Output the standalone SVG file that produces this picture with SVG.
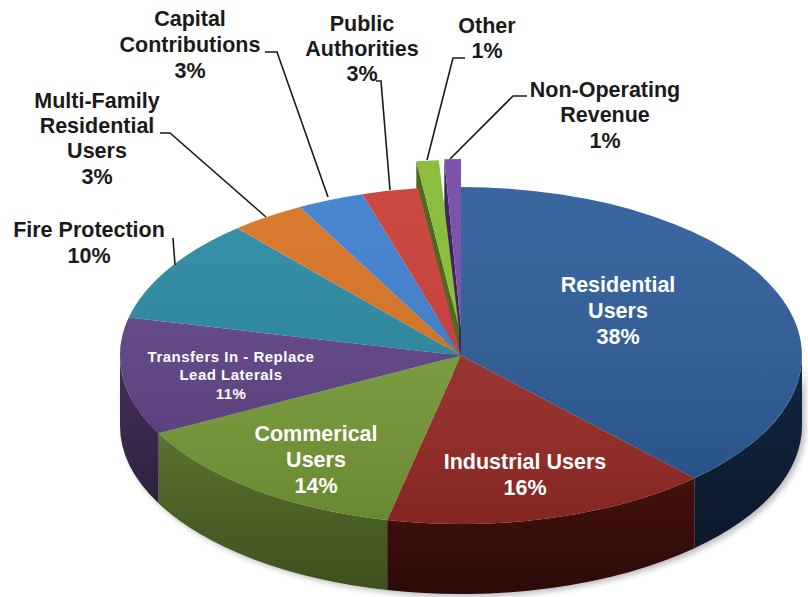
<svg xmlns="http://www.w3.org/2000/svg" width="808" height="597" viewBox="0 0 808 597">
<defs>
<style>
.lbl{font-family:"Liberation Sans",Arial,sans-serif;font-weight:bold;font-size:21.5px;text-anchor:middle;fill:#1a1a1a}
.in{font-family:"Liberation Sans",Arial,sans-serif;font-weight:bold;font-size:21.5px;text-anchor:middle;fill:#ffffff}
.sm{font-family:"Liberation Sans",Arial,sans-serif;font-weight:bold;font-size:15px;letter-spacing:0.5px;text-anchor:middle;fill:#ffffff}
.lead{fill:none;stroke:#1a1a1a;stroke-width:1.6}
</style>
<filter id="blur" x="-10%" y="-10%" width="120%" height="120%"><feGaussianBlur stdDeviation="3"/></filter>
<linearGradient id="shade" gradientUnits="userSpaceOnUse" x1="0" y1="187" x2="0" y2="524">
<stop offset="0" stop-color="#ffffff" stop-opacity="0.07"/>
<stop offset="1" stop-color="#000000" stop-opacity="0.15"/>
</linearGradient>
<linearGradient id="sRes" x1="0" y1="0" x2="0" y2="1"><stop offset="0" stop-color="#122742"/><stop offset="1" stop-color="#0b182a"/></linearGradient>
<linearGradient id="sInd" x1="0" y1="0" x2="0" y2="1"><stop offset="0" stop-color="#43110e"/><stop offset="1" stop-color="#2c0a08"/></linearGradient>
<linearGradient id="sCom" x1="0" y1="0" x2="0" y2="1"><stop offset="0" stop-color="#5a722e"/><stop offset="1" stop-color="#3d501f"/></linearGradient>
<linearGradient id="sTra" x1="0" y1="0" x2="0" y2="1"><stop offset="0" stop-color="#45305f"/><stop offset="1" stop-color="#2f213e"/></linearGradient>
</defs>
<rect width="808" height="597" fill="#ffffff"/>

<path d="M805 358 A341 168.5 0 0 1 123 358 L123 428 A341 168.5 0 0 0 805 428 Z" fill="#000000" opacity="0.28" filter="url(#blur)"/>

<g id="exploded">
<path d="M461 327.5 L444.3 159.2 L444.3 229.2 L461 397.5 Z" fill="#3c2858"/>
<path d="M459 328.5 L416.3 161.3 L416.3 231.3 L459 398.5 Z" fill="#4d681f"/>
</g>

<g id="sides">
<path d="M802 355.5 A341 168.5 0 0 1 694.4 478.3 L694.4 548.3 A341 168.5 0 0 0 802 425.5 Z" fill="url(#sRes)"/>
<path d="M694.4 478.3 A341 168.5 0 0 1 387.2 520 L387.2 590 A341 168.5 0 0 0 694.4 548.3 Z" fill="url(#sInd)"/>
<path d="M387.2 520 A341 168.5 0 0 1 158.5 433.3 L158.5 503.3 A341 168.5 0 0 0 387.2 590 Z" fill="url(#sCom)"/>
<path d="M158.5 433.3 A341 168.5 0 0 1 120 355.5 L120 425.5 A341 168.5 0 0 0 158.5 503.3 Z" fill="url(#sTra)"/>
</g>

<g id="node-residential">
<path d="M461 355.5 L461 187 A341 168.5 0 0 1 694.4 478.3 Z" fill="#2a5b98"/>
</g>
<g id="node-industrial">
<path d="M461 355.5 L694.4 478.3 A341 168.5 0 0 1 387.2 520 Z" fill="#9c2c27"/>
</g>
<g id="node-commercial">
<path d="M461 355.5 L387.2 520 A341 168.5 0 0 1 158.5 433.3 Z" fill="#7aa038"/>
</g>
<g id="node-transfers">
<path d="M461 355.5 L158.5 433.3 A341 168.5 0 0 1 128.7 317.6 Z" fill="#5f4187"/>
</g>
<g id="node-fire">
<path d="M461 355.5 L128.7 317.6 A341 168.5 0 0 1 237.3 228.3 Z" fill="#2688a0"/>
</g>
<g id="node-multifamily">
<path d="M461 355.5 L237.3 228.3 A341 168.5 0 0 1 299.8 207 Z" fill="#d87220"/>
</g>
<g id="node-capital">
<path d="M461 355.5 L299.8 207 A341 168.5 0 0 1 362.4 194.2 Z" fill="#3b7dcd"/>
</g>
<g id="node-public">
<path d="M461 355.5 L362.4 194.2 A341 168.5 0 0 1 418.3 188.3 Z" fill="#c93a35"/>
</g>
<path d="M461 355.5 L461 187 A341 168.5 0 1 1 418.3 188.3 Z" fill="url(#shade)"/>
<g id="node-other">
<path d="M459 328.5 L416.3 161.3 A341 168.5 0 0 1 438.8 160.3 Z" fill="#8dbd3f"/>
</g>
<g id="node-nonoperating">
<path d="M461 327.5 L444.3 159.2 A341 168.5 0 0 1 461 159 Z" fill="#7b53ab"/>
</g>

<g id="connectors">
<polyline class="lead" points="265,52 277,52 328,197"/>
<polyline class="lead" points="160,133 170,133 266,217"/>
<polyline class="lead" points="173,238 175,265"/>
<polyline class="lead" points="376,81 381,81 390,190"/>
<polyline class="lead" points="465,58 453,58 427,160"/>
<polyline class="lead" points="527,96 513,96 450,159"/>
</g>

<g id="labels">
<text class="lbl" x="190" y="26">Capital</text>
<text class="lbl" x="190" y="52">Contributions</text>
<text class="lbl" x="190" y="78">3%</text>
<text class="lbl" x="97" y="108">Multi-Family</text>
<text class="lbl" x="97" y="133">Residential</text>
<text class="lbl" x="97" y="158">Users</text>
<text class="lbl" x="97" y="184">3%</text>
<text class="lbl" x="89" y="237">Fire Protection</text>
<text class="lbl" x="89" y="263">10%</text>
<text class="lbl" x="362" y="31">Public</text>
<text class="lbl" x="362" y="56">Authorities</text>
<text class="lbl" x="362" y="81">3%</text>
<text class="lbl" x="487" y="33">Other</text>
<text class="lbl" x="487" y="58">1%</text>
<text class="lbl" x="605" y="97">Non-Operating</text>
<text class="lbl" x="605" y="122">Revenue</text>
<text class="lbl" x="605" y="148">1%</text>
<text class="in" x="618" y="292">Residential</text>
<text class="in" x="618" y="318">Users</text>
<text class="in" x="618" y="344">38%</text>
<text class="in" x="525" y="469">Industrial Users</text>
<text class="in" x="525" y="495">16%</text>
<text class="in" x="316" y="441">Commerical</text>
<text class="in" x="316" y="467">Users</text>
<text class="in" x="316" y="493">14%</text>
<text class="sm" x="231" y="362">Transfers In - Replace</text>
<text class="sm" x="231" y="380">Lead Laterals</text>
<text class="sm" x="231" y="399">11%</text>
</g>
</svg>
